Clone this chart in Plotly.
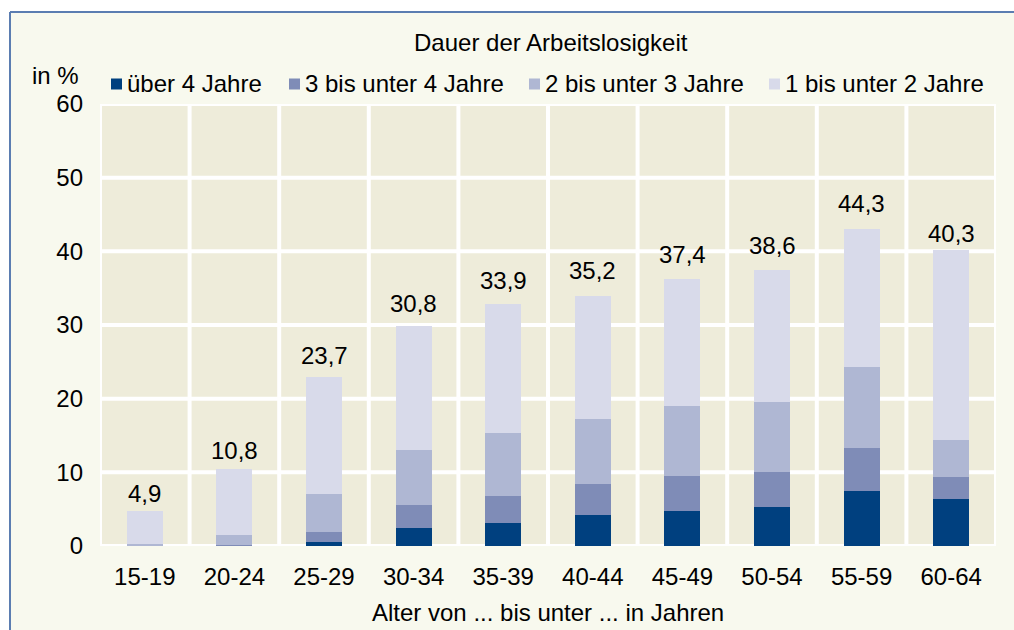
import plotly.graph_objects as go

# ---------------- data ----------------
categories = ["15-19", "20-24", "25-29", "30-34", "35-39", "40-44", "45-49", "50-54", "55-59", "60-64"]
series_names = ["über 4 Jahre", "3 bis unter 4 Jahre", "2 bis unter 3 Jahre", "1 bis unter 2 Jahre"]
over_4 = [0.0, 0.0, 0.5, 2.4, 3.1, 4.2, 4.8, 5.35, 7.4, 6.35]
from_3_to_4 = [0.05, 0.1, 1.4, 3.2, 3.75, 4.15, 4.65, 4.65, 5.85, 3.0]
from_2_to_3 = [0.2, 1.35, 5.2, 7.5, 8.5, 8.95, 9.5, 9.6, 11.0, 5.05]
from_1_to_2 = [4.45, 9.05, 15.9, 16.8, 17.55, 16.7, 17.25, 17.8, 18.8, 25.75]
total_labels = ["4,9", "10,8", "23,7", "30,8", "33,9", "35,2", "37,4", "38,6", "44,3", "40,3"]
y_ticks = [0, 10, 20, 30, 40, 50, 60]

chart_title = "Dauer der Arbeitslosigkeit"
x_title = "Alter von ... bis unter ... in Jahren"
y_unit = "in %"

# ---------------- style ----------------
colors = ["#00407F", "#7F8CB7", "#AFB7D3", "#D8DAEA"]
FONT = "Liberation Sans, Arial, sans-serif"
FS = 24
W, H = 1014, 630
ML, MR, MT, MB = 100, 18, 104, 84
PW = W - ML - MR
PH = H - MT - MB
BORDER = "#5B7DB1"


def px_x(px):
    return (px - ML) / PW


def px_y(py):
    return (H - MB - py) / PH


series = [over_4, from_3_to_4, from_2_to_3, from_1_to_2]
xs = list(range(len(categories)))

fig = go.Figure()
for name, vals, col in zip(series_names, series, colors):
    fig.add_trace(go.Bar(
        x=xs, y=vals, name=name, width=0.4,
        marker=dict(color=col, line=dict(width=0)),
        showlegend=False, hoverinfo="y+name",
    ))

annotations = []
# total labels
for i, lab in enumerate(total_labels):
    annotations.append(dict(
        x=xs[i], y=float(lab.replace(",", ".")), xref="x", yref="y",
        text=lab, showarrow=False, yanchor="middle", yshift=16,
        font=dict(family=FONT, size=FS, color="#000000"),
    ))

# chart title, axis unit, x title
annotations.append(dict(x=px_x(551), y=px_y(42), xref="paper", yref="paper",
                        text=chart_title, showarrow=False, xanchor="center", yanchor="middle",
                        font=dict(family=FONT, size=FS, color="#000000")))
annotations.append(dict(x=px_x(81), y=px_y(75), xref="paper", yref="paper",
                        text=y_unit, showarrow=False, xanchor="right", yanchor="middle",
                        font=dict(family=FONT, size=FS, color="#000000")))
annotations.append(dict(x=px_x(548), y=px_y(612), xref="paper", yref="paper",
                        text=x_title, showarrow=False, xanchor="center", yanchor="middle",
                        font=dict(family=FONT, size=FS, color="#000000")))

shapes = []
# outer frame fill (extends beyond the right/bottom edges)
shapes.append(dict(type="rect", xref="paper", yref="paper",
                   x0=px_x(10), x1=px_x(1100), y0=px_y(700), y1=px_y(12),
                   fillcolor="#F8F9EE", line=dict(width=0), layer="below"))
# frame border: top and left only
shapes.append(dict(type="line", xref="paper", yref="paper",
                   x0=px_x(10), x1=px_x(1100), y0=px_y(12), y1=px_y(12),
                   line=dict(color=BORDER, width=2), layer="below"))
shapes.append(dict(type="line", xref="paper", yref="paper",
                   x0=px_x(10), x1=px_x(10), y0=px_y(12), y1=px_y(700),
                   line=dict(color=BORDER, width=2), layer="below"))
# plot background
shapes.append(dict(type="rect", xref="paper", yref="paper", x0=0, x1=1, y0=0, y1=1,
                   fillcolor="#EEECDA", line=dict(width=0), layer="below"))
# vertical separators
for i in range(len(categories) + 1):
    shapes.append(dict(type="line", xref="x", yref="paper", x0=i - 0.5, x1=i - 0.5, y0=0, y1=1,
                       line=dict(color="#FFFFFF", width=4), layer="below"))
# horizontal grid lines
for t in y_ticks:
    shapes.append(dict(type="line", xref="paper", yref="y", x0=0, x1=1, y0=t, y1=t,
                       line=dict(color="#FFFFFF", width=4), layer="below"))

# manual legend
legend_sq_x = [111, 289, 529, 769]
legend_y = 84
sq = 11
for name, col, sx in zip(series_names, colors, legend_sq_x):
    shapes.append(dict(type="rect", xref="paper", yref="paper",
                       x0=px_x(sx), x1=px_x(sx + sq), y0=px_y(legend_y + sq / 2), y1=px_y(legend_y - sq / 2),
                       fillcolor=col, line=dict(width=0)))
    annotations.append(dict(x=px_x(sx + sq + 3), y=px_y(legend_y), xref="paper", yref="paper",
                            text=name, showarrow=False, xanchor="left", yanchor="middle",
                            font=dict(family=FONT, size=FS, color="#000000")))

fig.update_layout(
    width=W, height=H,
    margin=dict(l=ML, r=MR, t=MT, b=MB, pad=0),
    paper_bgcolor="#FFFFFF",
    plot_bgcolor="rgba(0,0,0,0)",
    barmode="stack",
    bargap=0.6,
    font=dict(family=FONT, size=FS, color="#000000"),
    showlegend=False,
    xaxis=dict(range=[-0.5, len(categories) - 0.5], tickvals=xs, ticktext=categories,
               showgrid=False, zeroline=False, showline=False, ticks="",
               ticklabelstandoff=14, tickfont=dict(family=FONT, size=FS, color="#000000"),
               fixedrange=True),
    yaxis=dict(range=[0, 60], tickvals=y_ticks, showgrid=False, zeroline=False, showline=False,
               ticks="", ticklabelstandoff=16, tickfont=dict(family=FONT, size=FS, color="#000000"),
               fixedrange=True),
    annotations=annotations,
    shapes=shapes,
)

fig.write_html(
    "out.html",
    config={"displayModeBar": False},
    post_script="document.body.style.margin='0';document.body.style.padding='0';"
                "document.body.style.overflow='hidden';",
)
